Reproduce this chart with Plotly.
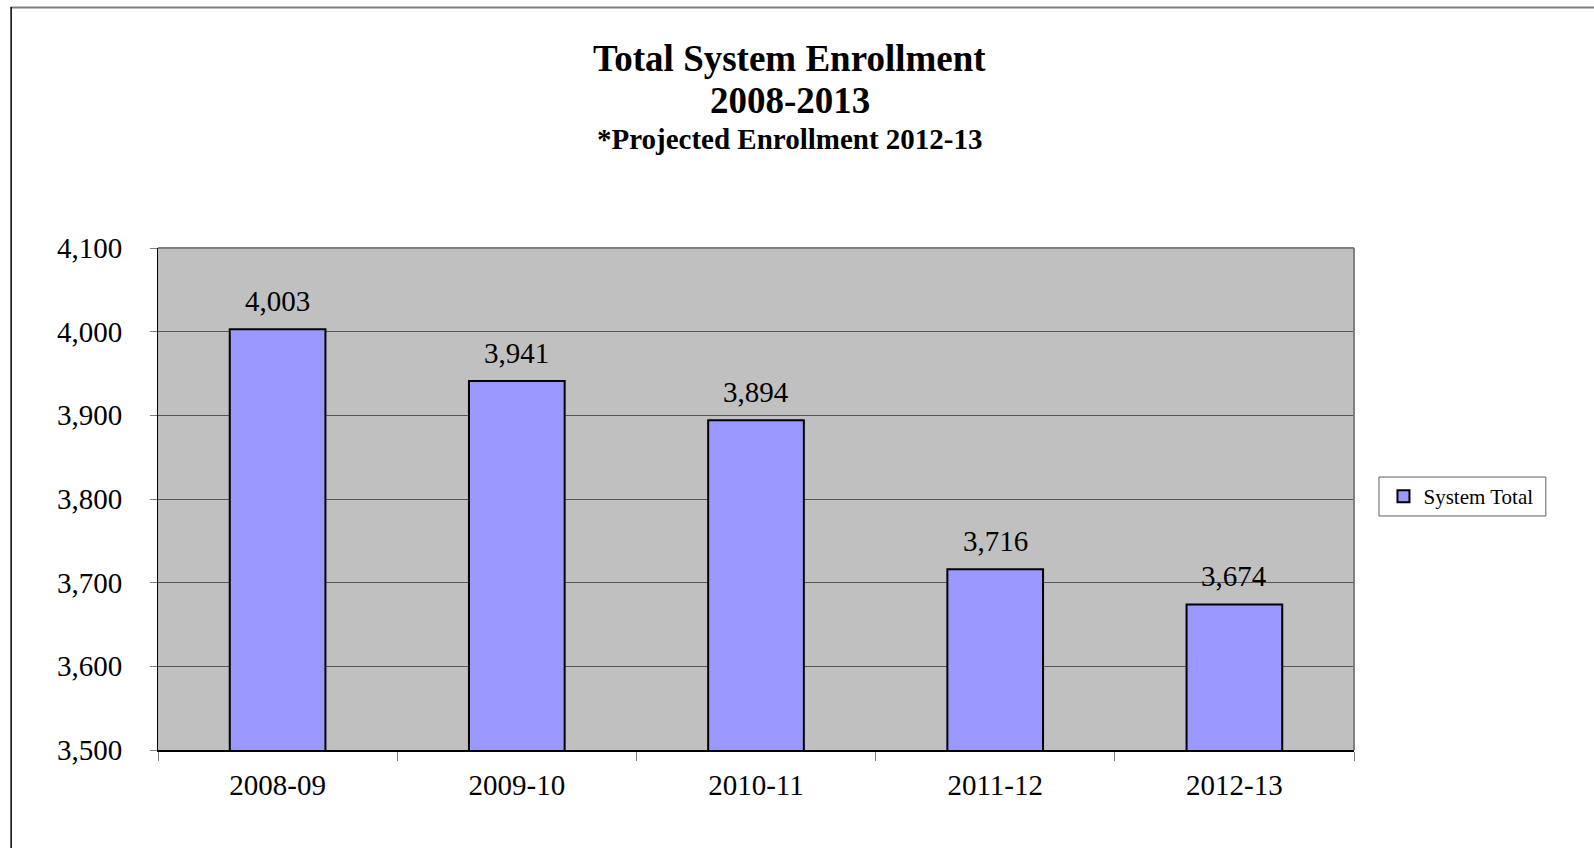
import plotly.graph_objects as go

# Enrollment totals by school year (2012-13 is projected)
years = ["2008-09", "2009-10", "2010-11", "2011-12", "2012-13"]
enrollment = [4003, 3941, 3894, 3716, 3674]
y_ticks = [3500, 3600, 3700, 3800, 3900, 4000, 4100]

W, H = 1594, 848
# plot area in pixels
L, R, T, B = 157.5, 1354.5, 247.5, 750.5

def px_x(px):
    return (px - L) / (R - L)

def px_y(py):
    return (B - py) / (B - T)

SERIF = "Liberation Serif, Times New Roman, serif"

fig = go.Figure()
fig.add_trace(go.Bar(
    x=years,
    y=enrollment,
    name="System Total",
    width=0.40,
    marker=dict(color="#9999FF", line=dict(color="#000000", width=2)),
    showlegend=True,
))

# value labels above bars
for yr, v in zip(years, enrollment):
    fig.add_annotation(
        x=yr, y=v, text=f"{v:,}", showarrow=False,
        xref="x", yref="y", yanchor="bottom", yshift=10,
        font=dict(family=SERIF, size=29, color="#000000"),
    )

# title block
titles = [
    ("<b>Total System Enrollment</b>", 37, 58),
    ("<b>2008-2013</b>", 37, 100),
    ("<b>*Projected Enrollment 2012-13</b>", 29, 138),
]
for txt, size, cy in titles:
    fig.add_annotation(
        x=px_x(790), y=px_y(cy), xref="paper", yref="paper",
        text=txt, showarrow=False, xanchor="center", yanchor="middle",
        font=dict(family=SERIF, size=size, color="#000000"),
    )

# chart-area frame (top and left edges)
fig.add_shape(type="line", xref="paper", yref="paper",
              x0=px_x(10), x1=px_x(W + 5), y0=px_y(6.5), y1=px_y(6.5),
              line=dict(color="#7f7f7f", width=2))
fig.add_shape(type="line", xref="paper", yref="paper",
              x0=px_x(10.5), x1=px_x(10.5), y0=px_y(6), y1=px_y(H + 5),
              line=dict(color="#000000", width=1.5))
# plot-area top and right border
fig.add_shape(type="line", xref="paper", yref="paper",
              x0=0, x1=1, y0=1, y1=1, line=dict(color="#808080", width=2))
fig.add_shape(type="line", xref="paper", yref="paper",
              x0=1, x1=1, y0=0, y1=1, line=dict(color="#808080", width=2))
# legend box
fig.add_shape(type="rect", xref="paper", yref="paper", layer="below",
              x0=px_x(1379.5), x1=px_x(1546.5), y0=px_y(477), y1=px_y(516),
              fillcolor="#FFFFFF", line=dict(color="#606060", width=1))

fig.update_layout(
    width=W, height=H,
    margin=dict(l=L, r=W - R, t=T, b=H - B, pad=0),
    paper_bgcolor="#FFFFFF",
    plot_bgcolor="#C0C0C0",
    font=dict(family=SERIF, color="#000000"),
    legend=dict(
        x=px_x(1384), y=px_y(496.5), xanchor="left", yanchor="middle",
        bgcolor="rgba(0,0,0,0)", borderwidth=0,
        font=dict(family=SERIF, size=21, color="#000000"),
        itemwidth=30,
    ),
    xaxis=dict(
        type="category",
        showgrid=False,
        showline=True, linecolor="#000000", linewidth=1.5,
        ticks="outside", ticklen=9, tickcolor="#808080", tickwidth=1,
        tickson="boundaries",
        tickfont=dict(family=SERIF, size=29, color="#000000"),
        ticklabelstandoff=8,
        fixedrange=True,
    ),
    yaxis=dict(
        range=[3500, 4100],
        tickvals=y_ticks,
        tickformat=",",
        showgrid=True, gridcolor="#555555", gridwidth=1,
        showline=True, linecolor="#000000", linewidth=1,
        ticks="outside", ticklen=7, tickcolor="#808080", tickwidth=1,
        tickfont=dict(family=SERIF, size=29, color="#000000"),
        ticklabelstandoff=22,
        zeroline=False,
        fixedrange=True,
    ),
)

fig.write_html("out.html")
